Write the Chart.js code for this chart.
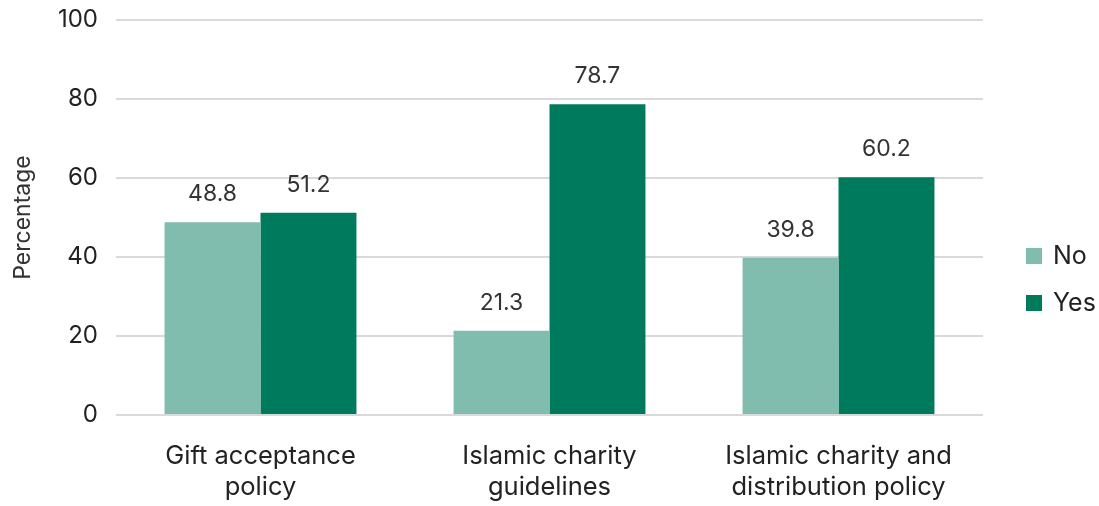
<!DOCTYPE html>
<html>
<head>
<meta charset="utf-8">
<script src="https://cdn.jsdelivr.net/npm/chart.js@4.4.1/dist/chart.umd.min.js"></script>
<style>
  html, body { margin: 0; padding: 0; background: #ffffff; }
  #wrap { width: 1099px; height: 506px; position: relative; }
</style>
</head>
<body>
<div id="wrap"><canvas id="c" width="1099" height="506"></canvas></div>
<script>
const categories = [
  ['Gift acceptance', 'policy'],
  ['Islamic charity', 'guidelines'],
  ['Islamic charity and', 'distribution policy']
];
const noValues = [48.8, 21.3, 39.8];
const yesValues = [51.2, 78.7, 60.2];
const seriesNames = ['No', 'Yes'];
const seriesColors = ['#80bdae', '#007a5c'];
const yTicks = [0, 20, 40, 60, 80, 100];

const FONT = 'Inter, "Open Sans", sans-serif';

// Value labels above each bar
const valueLabels = {
  id: 'valueLabels',
  afterDatasetsDraw(chart) {
    const ctx = chart.ctx;
    ctx.save();
    ctx.font = '400 23px ' + FONT;
    ctx.fillStyle = '#333333';
    ctx.textAlign = 'center';
    ctx.textBaseline = 'middle';
    chart.data.datasets.forEach((ds, i) => {
      chart.getDatasetMeta(i).data.forEach((bar, j) => {
        ctx.fillText(ds.data[j].toFixed(1), bar.x, bar.y - 28);
      });
    });
    ctx.restore();
  }
};

// Legend at the right, vertically stacked
const sideLegend = {
  id: 'sideLegend',
  afterDraw(chart) {
    const ctx = chart.ctx;
    ctx.save();
    ctx.font = '400 25px ' + FONT;
    ctx.textBaseline = 'middle';
    ctx.textAlign = 'left';
    const x = 1026, y0 = 256, gap = 47;
    chart.data.datasets.forEach((ds, i) => {
      const y = y0 + i * gap;
      ctx.fillStyle = ds.backgroundColor;
      ctx.fillRect(x, y - 8, 16, 16);
      ctx.fillStyle = '#222222';
      ctx.fillText(ds.label, x + 27, y);
    });
    ctx.restore();
  }
};

new Chart(document.getElementById('c'), {
  type: 'bar',
  data: {
    labels: categories,
    datasets: [
      { label: seriesNames[0], data: noValues, backgroundColor: seriesColors[0] },
      { label: seriesNames[1], data: yesValues, backgroundColor: seriesColors[1] }
    ]
  },
  options: {
    responsive: false,
    animation: false,
    devicePixelRatio: 1,
    layout: { padding: { top: 20, right: 116, bottom: 0, left: 9 } },
    plugins: { legend: { display: false }, tooltip: { enabled: false } },
    datasets: { bar: { categoryPercentage: 0.664, barPercentage: 1.0 } },
    scales: {
      x: {
        afterFit(scale) { scale.height = 91; scale.paddingLeft = 0; scale.paddingRight = 0; },
        grid: { display: false, drawTicks: false },
        border: { display: false },
        ticks: { color: '#222222', font: { family: FONT, size: 25.5, lineHeight: '31px' }, padding: 26, maxRotation: 0 }
      },
      y: {
        min: 0, max: 100,
        afterBuildTicks(scale) { scale.ticks = yTicks.map(v => ({ value: v })); },
        afterFit(scale) { scale.width = 107; scale.paddingTop = 0; scale.paddingBottom = 0; },
        grid: { color: '#d9d9d9', lineWidth: 2, drawTicks: false },
        border: { display: false },
        ticks: { color: '#222222', font: { family: FONT, size: 24 }, padding: 18 },
        title: { display: true, text: 'Percentage', color: '#333333', font: { family: FONT, size: 23 }, padding: 0 }
      }
    }
  },
  plugins: [valueLabels, sideLegend]
});
</script>
</body>
</html>
